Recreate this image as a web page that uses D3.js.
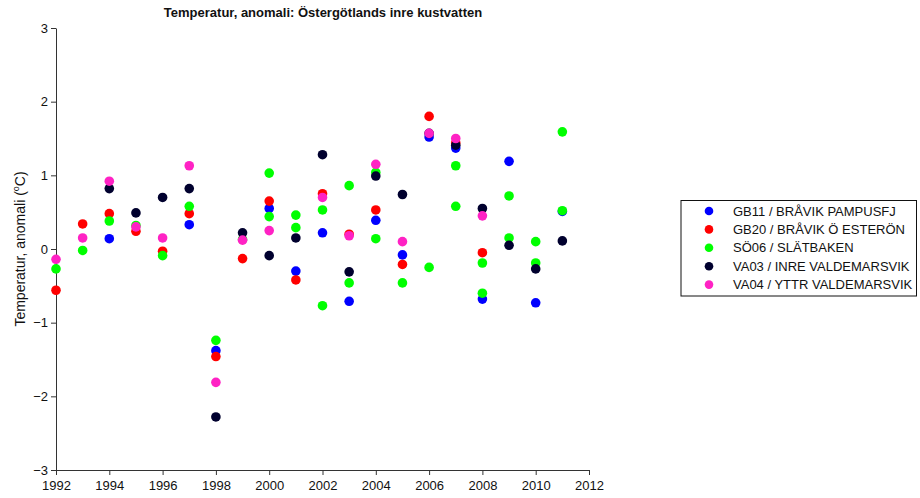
<!DOCTYPE html>
<html><head><meta charset="utf-8">
<script src="https://cdn.jsdelivr.net/npm/d3@7"></script>
<style>body{margin:0;background:#fff}svg{display:block;font-family:"Liberation Sans",Arial,sans-serif}</style>
</head><body><svg id="c" width="920" height="498"></svg>
<script>
const years = [1992,1993,1994,1995,1996,1997,1998,1999,2000,2001,2002,2003,2004,2005,2006,2007,2008,2009,2010,2011];
const gb11  = [null,null,0.14,null,null,0.33,-1.38,null,0.55,-0.30,0.22,-0.71,0.39,-0.08,1.52,1.37,-0.68,1.19,-0.73,0.51];
const gb20  = [-0.56,0.34,0.48,0.24,-0.03,0.48,-1.46,-0.13,0.65,-0.42,0.75,0.20,0.53,-0.21,1.80,1.44,-0.05,null,null,null];
const so06  = [-0.27,-0.02,0.38,0.32,-0.09,0.58,-1.24,0.13,1.03,0.46,0.53,0.86,1.04,-0.46,-0.25,1.13,-0.19,0.72,0.10,1.59];
const so06b = [null,null,null,null,null,null,null,null,0.44,0.29,-0.77,-0.46,0.14,null,null,0.58,-0.60,0.15,-0.19,0.52];
const va03  = [null,null,0.82,0.49,0.70,0.82,-2.28,0.22,-0.09,0.15,1.28,-0.31,0.99,0.74,1.57,1.41,0.55,0.05,-0.27,0.11];
const va04  = [-0.14,0.15,0.92,0.30,0.15,1.13,-1.81,0.12,0.25,null,0.70,0.18,1.15,0.10,1.57,1.50,0.45,null,null,null];
const seriesNames = ["GB11 / BRÅVIK PAMPUSFJ","GB20 / BRÅVIK Ö ESTERÖN","SÖ06 / SLÄTBAKEN","VA03 / INRE VALDEMARSVIK","VA04 / YTTR VALDEMARSVIK"];
const seriesColors = ["#0000ff","#ff0000","#00ff00","#00002e","#ff22c4"];
const xTicks = [1992,1994,1996,1998,2000,2002,2004,2006,2008,2010,2012];
const yTicks = [-3,-2,-1,0,1,2,3];
const title = "Temperatur, anomali: Östergötlands inre kustvatten";

const svg = d3.select("#c");
const x = d3.scaleLinear().domain([1992,2012]).range([56,589]);
const y = d3.scaleLinear().domain([-3,3]).range([470,28]);

const fmt = d => d < 0 ? "\u2212" + Math.abs(d) : String(d);

const gx = svg.append("g").attr("transform","translate(0,470)")
  .call(d3.axisBottom(x).tickValues(xTicks).tickFormat(d3.format("d")).tickSize(5).tickSizeOuter(0));
const gy = svg.append("g").attr("transform","translate(56,0)")
  .call(d3.axisLeft(y).tickValues(yTicks).tickFormat(fmt).tickSize(5).tickSizeOuter(0));
[gx,gy].forEach(g=>{
  g.selectAll("path,line").attr("stroke","#333").attr("stroke-width",1);
  g.selectAll("text").attr("fill","#111").attr("font-size",13).attr("font-family","Liberation Sans, Arial, sans-serif");
});
gx.selectAll("text").attr("dy","0.95em");

svg.append("text").attr("x",323).attr("y",17).attr("text-anchor","middle")
  .attr("font-size",13).attr("font-weight","bold").attr("fill","#111").text(title);

const yl = svg.append("text").attr("transform","translate(25,249) rotate(-90)")
  .attr("text-anchor","middle").attr("font-size",14).attr("fill","#111");
yl.append("tspan").text("Temperatur, anomali (");
yl.append("tspan").attr("font-size",9).attr("dy",-6).text("o");
yl.append("tspan").attr("dy",6).text("C)");

const layers = [
  {vals:gb11, c:0},{vals:gb20, c:1},{vals:so06, c:2},{vals:so06b, c:2},{vals:va03, c:3},{vals:va04, c:4}
];
layers.forEach(l=>{
  const pts = years.map((yr,i)=>({yr, v:l.vals[i]})).filter(d=>d.v!==null);
  svg.append("g").selectAll("circle").data(pts).join("circle")
    .attr("cx",d=>x(d.yr)).attr("cy",d=>y(d.v)).attr("r",4.8)
    .attr("fill",seriesColors[l.c]);
});

const lg = svg.append("g");
lg.append("rect").attr("x",681).attr("y",200.5).attr("width",235.5).attr("height",95.5)
  .attr("fill","#fff").attr("stroke","#111").attr("stroke-width",1);
seriesNames.forEach((n,i)=>{
  const yy = 211 + i*18.4;
  lg.append("circle").attr("cx",709).attr("cy",yy).attr("r",4.3).attr("fill",seriesColors[i]);
  lg.append("text").attr("x",733).attr("y",yy+4.6).attr("font-size",13).attr("fill","#111").text(n);
});
</script></body></html>
